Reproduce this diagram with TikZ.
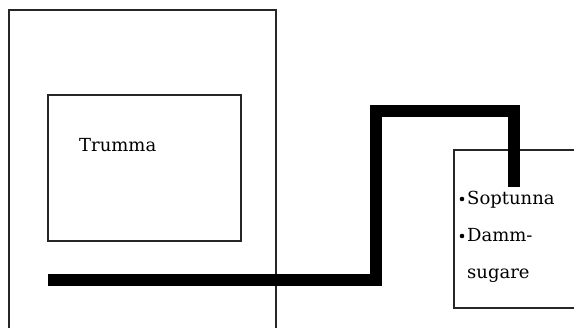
\documentclass[tikz,border=0pt]{standalone}
\usepackage{fontspec}
\setmainfont{DejaVu Serif}
\begin{document}
\begin{tikzpicture}[x=1pt,y=-1pt,
  frame/.style={draw=black!85,line width=2pt},
  pipe/.style={draw=black,line width=12pt,line cap=butt,line join=miter},
  lbl/.style={font=\fontsize{18}{21}\selectfont,inner sep=0pt,anchor=base west}]
\useasboundingbox (0,0) rectangle (574,328);
\fill[white] (0,0) rectangle (574,328);
% outer box (open at bottom)
\draw[frame] (9,330) -- (9,10) -- (276,10) -- (276,330);
% inner box
\node[frame,minimum width=193pt,minimum height=146pt,anchor=north west] (trumma) at (47,94) {};
\node[lbl] (tlab) at (79,152) {Trumma};
% right box (open at right)
\draw[frame] (576,150) -- (454,150) -- (454,308) -- (576,308);
% pipe
\coordinate (p0) at (48,280);
\coordinate (p1) at (376,280);
\coordinate (p2) at (376,111);
\coordinate (p3) at (514,111);
\coordinate (p4) at (514,187);
\draw[pipe] (p0) -- (p1) -- (p2) -- (p3) -- (p4);
% texts
\fill (462,199) circle (2.3pt);
\fill (462,236) circle (2.3pt);
\node[lbl] (s1) at (467,205) {Soptunna};
\node[lbl] (s2) at (467,242) {Damm-};
\node[lbl] (s3) at (467,279) {sugare};
\end{tikzpicture}
\end{document}
